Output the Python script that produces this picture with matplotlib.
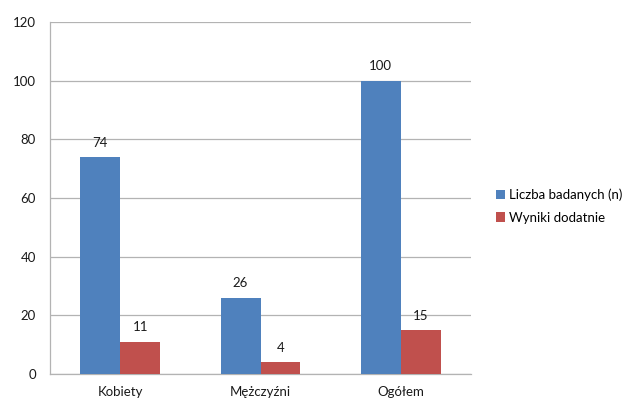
import numpy as np
import matplotlib.pyplot as plt

plt.rcParams['font.family'] = ['Lato', 'DejaVu Sans']

categories = ['Kobiety', 'Mężczyźni', 'Ogółem']
badanych = [74, 26, 100]
dodatnie = [11, 4, 15]
series_names = ['Liczba badanych (n)', 'Wyniki dodatnie']
yticks = [0, 20, 40, 60, 80, 100, 120]

blue = '#4F81BD'
red = '#C0504D'
grid_col = '#B3B3B3'

fig = plt.figure(figsize=(6.25, 3.99), dpi=100)
ax = fig.add_axes([0.08, 0.0627, 0.6736, 0.8822])

x = np.arange(len(categories))
w = 0.285
b1 = ax.bar(x - w / 2, badanych, w, color=blue, label=series_names[0], zorder=3)
b2 = ax.bar(x + w / 2, dodatnie, w, color=red, label=series_names[1], zorder=3)

# value labels above each bar
for bars, vals in ((b1, badanych), (b2, dodatnie)):
    for rect, v in zip(bars, vals):
        ax.annotate(str(v), (rect.get_x() + rect.get_width() / 2, v),
                    xytext=(0, 6), textcoords='offset points',
                    ha='center', va='bottom', fontsize=9.5, color='#1a1a1a', zorder=4)

ax.set_xlim(-0.5, 2.5)
ax.set_ylim(0, 120)
ax.set_yticks(yticks)
ax.set_xticks(x)
ax.set_xticklabels(categories)
ax.yaxis.grid(True, color=grid_col, linewidth=0.9, zorder=0)
ax.tick_params(axis='both', length=0, labelsize=9.5, colors='#1a1a1a')
ax.tick_params(axis='y', pad=10)
ax.tick_params(axis='x', pad=9)

for side in ('top', 'right'):
    ax.spines[side].set_visible(False)
for side in ('left', 'bottom'):
    ax.spines[side].set_color(grid_col)
    ax.spines[side].set_linewidth(0.9)

ax.legend(loc='center left', bbox_to_anchor=(1.03, 0.477), frameon=False,
          fontsize=9.5, handlelength=0.7, handleheight=0.7, handletextpad=0.3,
          labelspacing=0.8)

fig.savefig('out.png', dpi=100)
